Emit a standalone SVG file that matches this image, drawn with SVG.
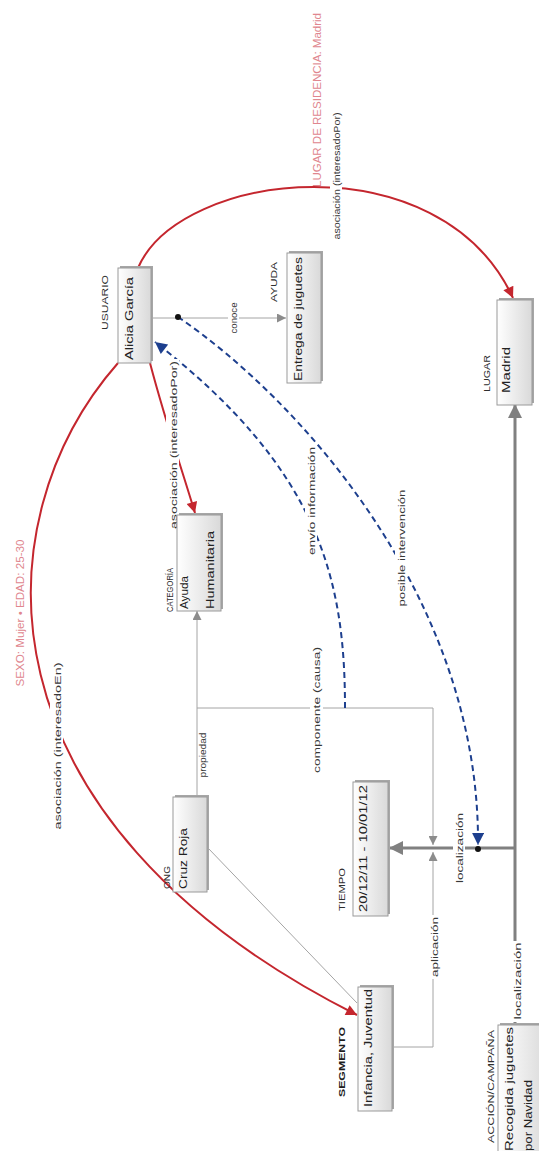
<svg xmlns="http://www.w3.org/2000/svg" width="539" height="1151" viewBox="0 0 539 1151">
  <defs>
    <linearGradient id="fillBox" x1="0" y1="0" x2="1" y2="0">
      <stop offset="0" stop-color="#ffffff"/>
      <stop offset="1" stop-color="#d9d9d9"/>
    </linearGradient>
    <marker id="arrGray" viewBox="0 0 10 10" refX="10" refY="5" markerWidth="11" markerHeight="9" markerUnits="userSpaceOnUse" orient="auto">
      <path d="M0,0 L10,5 L0,10 z" fill="#8c8c8c"/>
    </marker>
    <marker id="arrThick" viewBox="0 0 10 10" refX="10" refY="5" markerWidth="17" markerHeight="14" markerUnits="userSpaceOnUse" orient="auto">
      <path d="M0,0 L10,5 L0,10 z" fill="#808080"/>
    </marker>
    <marker id="arrRed" viewBox="0 0 10 10" refX="10" refY="5" markerWidth="13" markerHeight="11" markerUnits="userSpaceOnUse" orient="auto">
      <path d="M0,0 L10,5 L0,10 z" fill="#c4262e"/>
    </marker>
    <marker id="arrBlue" viewBox="0 0 10 10" refX="10" refY="5" markerWidth="14" markerHeight="12" markerUnits="userSpaceOnUse" orient="auto">
      <path d="M0,0 L10,5 L0,10 z" fill="#1d3f8e"/>
    </marker>
    <style>
      .box { fill: url(#fillBox); stroke: #9a9a9a; stroke-width: 1; }
      .shadow { fill: #a6a6a6; }
      .t { font-family: "Liberation Sans", Arial, sans-serif; fill: #333; }
      .title { font-size: 9.5px; fill: #2e2e2e; }
      .bold { font-weight: bold; fill: #1e1e1e; }
      .name { font-size: 11px; fill: #222; }
      .lbl { font-size: 9.5px; fill: #383838; }
      .pink { font-size: 10px; fill: #e0868e; }
      .bg { fill: #ffffff; }
      .thin { stroke: #a4a4a4; stroke-width: 1; fill: none; }
      .thick { stroke: #808080; stroke-width: 3; fill: none; }
      .red { stroke: #c4262e; stroke-width: 2; fill: none; }
      .blue { stroke: #1d3f8e; stroke-width: 2; stroke-dasharray: 6 4; fill: none; }
      .dot { fill: #111; }
    </style>
  </defs>

  <rect width="539" height="1151" fill="#ffffff"/>

  <!-- links between concepts -->
  <g id="connectors">
    <path class="thin" d="M151,318 L286,318" marker-end="url(#arrGray)"/>
    <path class="thin" d="M197,797 L197,611" marker-end="url(#arrGray)"/>
    <path class="thin" d="M197,708 L433,708 L433,845" marker-end="url(#arrGray)"/>
    <path class="thin" d="M392,1047 L433,1047 L433,852" marker-end="url(#arrGray)"/>
    <path class="thin" d="M208,848 L357,1003"/>

    <path class="thick" d="M515,1025 L515,404" marker-end="url(#arrThick)"/>
    <path class="thick" d="M515,848 L389,848" marker-end="url(#arrThick)"/>

    <path class="red" d="M138,268 C180,170 440,140 513,298" marker-end="url(#arrRed)"/>
    <path class="red" d="M150,363 C165,420 182,470 195,513" marker-end="url(#arrRed)"/>
    <path class="red" d="M118,363 C-20,520 -30,820 357,1015" marker-end="url(#arrRed)"/>

    <path class="blue" d="M178,317 C300,400 480,600 478,845" marker-end="url(#arrBlue)"/>
    <path class="blue" d="M345,708 C345,580 320,470 155,342" marker-end="url(#arrBlue)"/>
    <circle class="dot" cx="178" cy="317" r="3"/>
    <circle class="dot" cx="478" cy="849" r="3"/>

    <!-- link labels -->
    <rect class="bg" x="228" y="300" width="11" height="36"/>
    <text class="t lbl" x="237" y="318" transform="rotate(-90 237 318)" text-anchor="middle" textLength="31" lengthAdjust="spacingAndGlyphs">conoce</text>

    <text class="t lbl" x="206" y="755" transform="rotate(-90 206 755)" text-anchor="middle" textLength="45" lengthAdjust="spacingAndGlyphs">propiedad</text>

    <rect class="bg" x="310" y="645" width="13" height="130"/>
    <text class="t lbl" x="320" y="710" transform="rotate(-90 320 710)" text-anchor="middle" textLength="126" lengthAdjust="spacingAndGlyphs">componente (causa)</text>

    <rect class="bg" x="305" y="445" width="12" height="112"/>
    <text class="t lbl" x="315" y="501" transform="rotate(-90 315 501)" text-anchor="middle" textLength="108" lengthAdjust="spacingAndGlyphs">envío información</text>

    <rect class="bg" x="395" y="488" width="12" height="121"/>
    <text class="t lbl" x="405" y="548" transform="rotate(-90 405 548)" text-anchor="middle" textLength="117" lengthAdjust="spacingAndGlyphs">posible intervención</text>

    <rect class="bg" x="453" y="811" width="12" height="74"/>
    <text class="t lbl" x="463" y="848" transform="rotate(-90 463 848)" text-anchor="middle" textLength="70" lengthAdjust="spacingAndGlyphs">localización</text>

    <rect class="bg" x="511" y="941" width="12" height="81"/>
    <text class="t lbl" x="521" y="981" transform="rotate(-90 521 981)" text-anchor="middle" textLength="77" lengthAdjust="spacingAndGlyphs">localización</text>

    <rect class="bg" x="428" y="915" width="12" height="64"/>
    <text class="t lbl" x="438" y="947" transform="rotate(-90 438 947)" text-anchor="middle" textLength="60" lengthAdjust="spacingAndGlyphs">aplicación</text>

    <rect class="bg" x="166" y="359" width="13" height="172"/>
    <text class="t lbl" x="177" y="445" transform="rotate(-90 177 445)" text-anchor="middle" textLength="168" lengthAdjust="spacingAndGlyphs">asociación (interesadoPor)</text>

    <rect class="bg" x="50" y="661" width="13" height="171"/>
    <text class="t lbl" x="61" y="746" transform="rotate(-90 61 746)" text-anchor="middle" textLength="167" lengthAdjust="spacingAndGlyphs">asociación (interesadoEn)</text>

    <rect class="bg" x="330" y="111" width="12" height="131"/>
    <text class="t lbl" x="340" y="176" transform="rotate(-90 340 176)" text-anchor="middle" textLength="127" lengthAdjust="spacingAndGlyphs">asociación (interesadoPor)</text>

    <text class="t pink" x="24" y="613" transform="rotate(-90 24 613)" text-anchor="middle" textLength="147" lengthAdjust="spacingAndGlyphs">SEXO: Mujer • EDAD: 25-30</text>
    <text class="t pink" x="321" y="100" transform="rotate(-90 321 100)" text-anchor="middle" textLength="174" lengthAdjust="spacingAndGlyphs">LUGAR DE RESIDENCIA: Madrid</text>
  </g>

  <!-- concepts -->
  <g id="usuario">
    <rect class="shadow" x="120" y="266" width="33" height="95"/>
    <rect class="box" x="118" y="268" width="33" height="95"/>
    <text class="t title" x="108" y="330" transform="rotate(-90 108 330)" textLength="55" lengthAdjust="spacingAndGlyphs">USUARIO</text>
    <text class="t name" x="133" y="360" transform="rotate(-90 133 360)" textLength="83" lengthAdjust="spacingAndGlyphs">Alicia García</text>
  </g>

  <g id="ayuda">
    <rect class="shadow" x="289" y="251" width="34" height="130"/>
    <rect class="box" x="287" y="253" width="34" height="130"/>
    <text class="t title" x="277" y="302" transform="rotate(-90 277 302)" textLength="40" lengthAdjust="spacingAndGlyphs">AYUDA</text>
    <text class="t name" x="302" y="381" transform="rotate(-90 302 381)" textLength="124" lengthAdjust="spacingAndGlyphs">Entrega de juguetes</text>
  </g>

  <g id="categoria">
    <rect class="shadow" x="179" y="513" width="44" height="96"/>
    <rect class="box" x="177" y="515" width="44" height="96"/>
    <text class="t title" x="173" y="612" transform="rotate(-90 173 612)" textLength="44" lengthAdjust="spacingAndGlyphs">CATEGORÍA</text>
    <text class="t name" x="188" y="609" transform="rotate(-90 188 609)" textLength="33" lengthAdjust="spacingAndGlyphs">Ayuda</text>
    <text class="t name" x="214" y="609" transform="rotate(-90 214 609)" textLength="78" lengthAdjust="spacingAndGlyphs">Humanitaria</text>
  </g>

  <g id="lugar">
    <rect class="shadow" x="499" y="298" width="35" height="105"/>
    <rect class="box" x="497" y="300" width="35" height="105"/>
    <text class="t title" x="490" y="392" transform="rotate(-90 490 392)" textLength="37" lengthAdjust="spacingAndGlyphs">LUGAR</text>
    <text class="t name" x="510" y="393" transform="rotate(-90 510 393)" textLength="46" lengthAdjust="spacingAndGlyphs">Madrid</text>
  </g>

  <g id="ong">
    <rect class="shadow" x="175" y="795" width="34" height="95"/>
    <rect class="box" x="173" y="797" width="34" height="95"/>
    <text class="t title" x="170" y="889" transform="rotate(-90 170 889)" textLength="23" lengthAdjust="spacingAndGlyphs">ONG</text>
    <text class="t name" x="187" y="889" transform="rotate(-90 187 889)" textLength="61" lengthAdjust="spacingAndGlyphs">Cruz Roja</text>
  </g>

  <g id="tiempo">
    <rect class="shadow" x="355" y="780" width="35" height="134"/>
    <rect class="box" x="353" y="782" width="35" height="134"/>
    <text class="t title" x="345" y="911" transform="rotate(-90 345 911)" textLength="43" lengthAdjust="spacingAndGlyphs">TIEMPO</text>
    <text class="t name" x="367" y="912" transform="rotate(-90 367 912)" textLength="127" lengthAdjust="spacingAndGlyphs">20/12/11 - 10/01/12</text>
  </g>

  <g id="segmento">
    <rect class="shadow" x="360" y="985" width="34" height="124"/>
    <rect class="box" x="358" y="987" width="34" height="124"/>
    <text class="t title bold" x="345" y="1097" transform="rotate(-90 345 1097)" textLength="70" lengthAdjust="spacingAndGlyphs">SEGMENTO</text>
    <text class="t name" x="372" y="1107" transform="rotate(-90 372 1107)" textLength="118" lengthAdjust="spacingAndGlyphs">Infancia, Juventud</text>
  </g>

  <g id="accion">
    <rect class="shadow" x="500" y="1023" width="50" height="140"/>
    <rect class="box" x="498" y="1025" width="50" height="140"/>
    <text class="t title" x="494" y="1143" transform="rotate(-90 494 1143)" textLength="113" lengthAdjust="spacingAndGlyphs">ACCIÓN/CAMPAÑA</text>
    <text class="t name" x="513" y="1151" transform="rotate(-90 513 1151)" textLength="124" lengthAdjust="spacingAndGlyphs">Recogida juguetes</text>
    <text class="t name" x="532" y="1151" transform="rotate(-90 532 1151)" textLength="71" lengthAdjust="spacingAndGlyphs">por Navidad</text>
  </g>
</svg>
